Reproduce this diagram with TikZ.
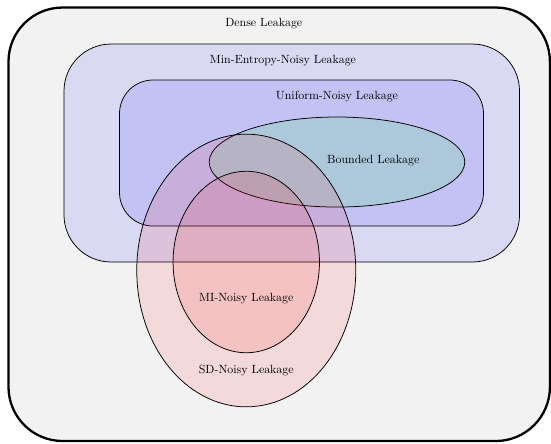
\documentclass[tikz,border=0pt]{standalone}
\usepackage{tikz}
\usetikzlibrary{positioning,calc}

\begin{document}
\begin{tikzpicture}[
region/.style={
  draw,
  fill opacity=0.1},
lbl/.style={
  font=\normalsize,
  scale=0.625,
  transform shape,
  inner sep=1pt}
]
\useasboundingbox (0,0) rectangle (10.185,8.189);
% nested classes
\draw[very thick, rounded corners=1cm, fill=gray!10]
  (0.157,0.037) rectangle (10.165,8.05);
\draw[region, fill=blue, rounded corners=0.87cm]
  (1.183,3.346) rectangle (9.603,7.375);
\draw[region, fill=blue, rounded corners=0.62cm]
  (2.209,4.011) rectangle (8.937,6.710);
\coordinate (BL) at (6.229,5.194);
\coordinate (SD) at (4.552,3.189);
\coordinate (MI) at (4.552,3.346);
\draw[region, fill=green] (BL) ellipse [x radius=2.362, y radius=0.832];
\draw[region, fill=red] (SD) ellipse [x radius=2.024, y radius=2.52];
\draw[region, fill=red] (MI) ellipse [x radius=1.353, y radius=1.677];
  \node[lbl] (dense) at (4.876,7.745) {Dense Leakage};
  \node[lbl] (minent) at (5.231,7.061) {Min-Entropy-Noisy Leakage};
  \node[lbl] (unif) at ($ (BL)+(0,1.202) $) {Uniform-Noisy Leakage};
  \node[lbl] (bdd) at ($ (BL)+(0.671,0.018) $) {Bounded Leakage};
  \node[lbl] (minoisy) at ($ (MI)+(0,-0.671) $) {MI-Noisy Leakage};
  \node[lbl] (sdnoisy) at ($ (SD)+(0,-1.858) $) {SD-Noisy Leakage};
\end{tikzpicture}
\end{document}
